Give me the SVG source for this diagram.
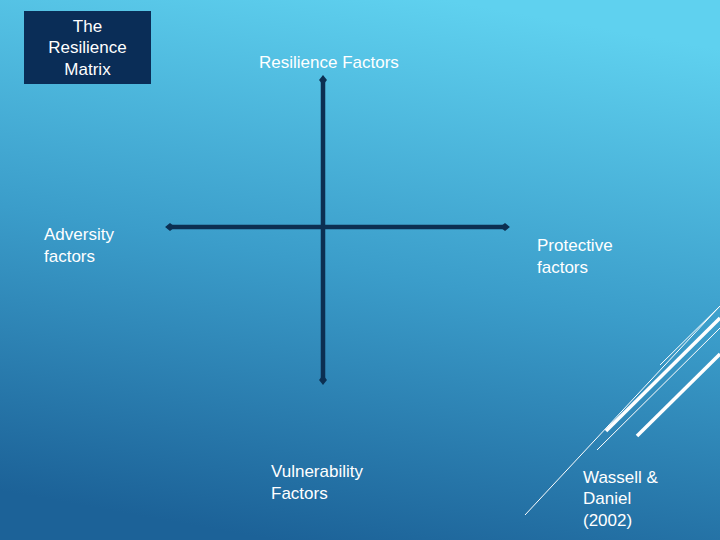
<svg xmlns="http://www.w3.org/2000/svg" width="720" height="540" viewBox="0 0 720 540">
<defs>
<linearGradient id="bg" x1="0.62" y1="0" x2="0.38" y2="1">
<stop offset="0" stop-color="#5fd1ef"/>
<stop offset="0.5" stop-color="#3b9dca"/>
<stop offset="1" stop-color="#1c6298"/>
</linearGradient>
<marker id="end" viewBox="0 0 10 10" refX="5" refY="5" markerWidth="2.2" markerHeight="2.2" orient="auto"><path d="M0,5 L5,1 L10,5 L5,9 Z" fill="#0c2f52"/></marker>
<style>
text{font-family:"Liberation Sans",Arial,sans-serif;font-size:17px;fill:#fff}
.ax{stroke:#0c2f52;stroke-width:4.5;marker-start:url(#end);marker-end:url(#end)}
.d{stroke:#fff;fill:none}
</style>
</defs>
<rect width="720" height="540" fill="url(#bg)"/>
<g id="deco">
<line class="d" x1="525" y1="515" x2="720" y2="306" stroke-width="1"/>
<line class="d" x1="606" y1="431" x2="720" y2="318" stroke-width="3.5"/>
<line class="d" x1="597" y1="450" x2="720" y2="328" stroke-width="1"/>
<line class="d" x1="660" y1="365" x2="720" y2="306" stroke-width="1"/>
<line class="d" x1="637" y1="436" x2="720" y2="354" stroke-width="3.5"/>
</g>
<g id="title">
<rect x="24" y="11" width="127" height="73" fill="#0a2d57"/>
<text x="87.5" y="32" text-anchor="middle">The</text>
<text x="87.5" y="53" text-anchor="middle">Resilience</text>
<text x="87.5" y="75" text-anchor="middle">Matrix</text>
</g>
<g id="connectors">
<line class="ax" x1="323" y1="80" x2="323" y2="380"/>
<line class="ax" x1="170" y1="227" x2="505" y2="227"/>
</g>
<g id="resilience"><text x="259" y="68">Resilience Factors</text></g>
<g id="adversity"><text x="44" y="240">Adversity</text><text x="44" y="262">factors</text></g>
<g id="protective"><text x="537" y="251">Protective</text><text x="537" y="273">factors</text></g>
<g id="vulnerability"><text x="271" y="477">Vulnerability</text><text x="271" y="499">Factors</text></g>
<g id="citation"><text x="583" y="483">Wassell &amp;</text><text x="583" y="504">Daniel</text><text x="583" y="526">(2002)</text></g>
</svg>
